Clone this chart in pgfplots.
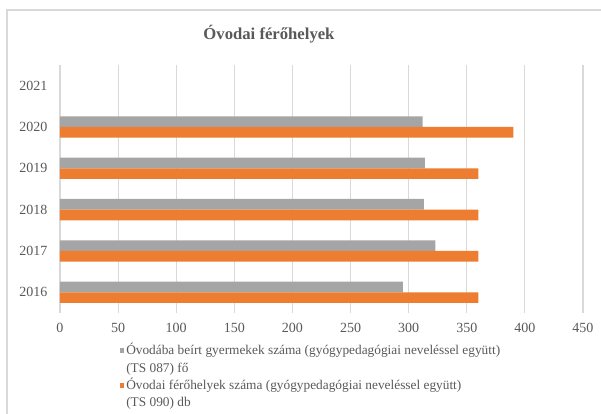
\documentclass[border=0pt]{standalone}
\usepackage{pgfplots}
\pgfplotsset{compat=1.18}
\usepackage{fontspec}
\setmainfont{Liberation Serif}
\definecolor{cgray}{HTML}{A5A5A5}
\definecolor{corange}{HTML}{ED7D31}
\definecolor{cgrid}{HTML}{D9D9D9}
\definecolor{ctext}{HTML}{595959}
\begin{document}
\begin{tikzpicture}
\path[use as bounding box] (0,0) rectangle (450.75pt,310.5pt);
\draw[cgrid, line width=1pt] (5.25pt,0pt) -- (5.25pt,303pt) -- (450.75pt,303pt);
\node[ctext, font=\fontsize{12.5}{15}\selectfont\bfseries] at (201.75pt,285pt) {Óvodai férőhelyek};
\begin{axis}[
  at={(45pt,75.75pt)}, anchor=south west,
  scale only axis, width=392.25pt, height=186pt,
  xbar, bar width=8pt,
  xmin=0, xmax=450, ymin=2015.5, ymax=2021.5,
  xtick={0,50,...,450}, ytick={2016,...,2021},
  /pgf/number format/assume math mode=true,
  /pgf/number format/1000 sep={},
  xmajorgrids, grid style={cgrid, line width=0.8pt},
  axis line style={draw=none}, major tick length=0pt,
  tick label style={ctext, font=\fontsize{10.5}{12}\selectfont},
  xticklabel style={yshift=-4pt},
  yticklabel style={xshift=-6pt},
  legend style={draw=none, fill=none, at={(41.5pt,-21.5pt)}, anchor=north west,
    legend cell align=left, font=\fontsize{10}{12}\selectfont, text=ctext,
    row sep=2.6pt, column sep=0pt,
    nodes={inner sep=0pt, text height=7.8pt, text depth=2.6pt}},
  legend image code/.code={\fill[#1, draw=none] (-5pt,-1.0pt) rectangle (-1.4pt,2.6pt);},
]
\addplot[fill=cgray, draw=none, bar shift=4pt] coordinates {(295,2016) (323,2017) (313,2018) (314,2019) (312,2020)};
\addlegendentry{Óvodába beírt gyermekek száma (gyógypedagógiai neveléssel együtt)}
\addlegendimage{empty legend}
\addlegendentry{(TS 087) fő}
\addplot[fill=corange, draw=none, bar shift=-4pt] coordinates {(360,2016) (360,2017) (360,2018) (360,2019) (390,2020)};
\addlegendentry{Óvodai férőhelyek száma (gyógypedagógiai neveléssel együtt)}
\addlegendimage{empty legend}
\addlegendentry{(TS 090) db}
\end{axis}
\end{tikzpicture}
\end{document}
